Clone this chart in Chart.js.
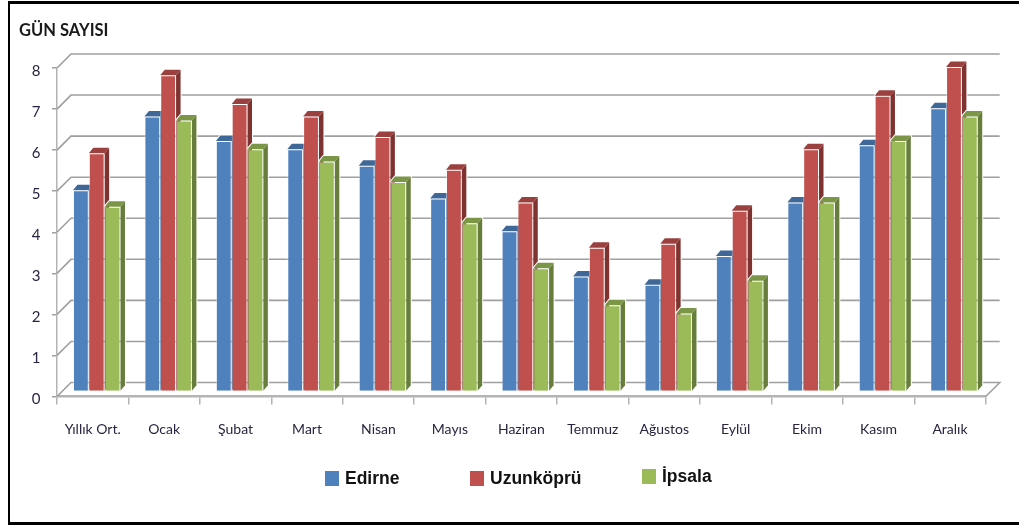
<!DOCTYPE html>
<html lang="tr">
<head>
<meta charset="utf-8">
<title>Gün Sayısı</title>
<script src="https://cdn.jsdelivr.net/npm/chart.js@4/dist/chart.umd.js"></script>
<style>
  html, body { margin: 0; padding: 0; background: #fff; overflow: hidden; }
  #wrap { position: relative; width: 1019px; height: 525px; filter: blur(0.5px); }
  #frame {
    position: absolute; left: 8px; top: 1px; width: 1011px; height: 524px; box-sizing: border-box;
    border-left: 2px solid #000; border-top: 3px solid #000; border-bottom: 3px solid #000;
    pointer-events: none;
  }
  canvas { position: absolute; left: 0; top: 0; }
  .legend-item {
    position: absolute; display: flex; align-items: center;
    font: bold 17.5px "Liberation Sans", sans-serif; color: #111; white-space: nowrap; height: 20px;
  }
  .legend-item i { display: block; width: 14px; height: 15px; margin-right: 6px; }
</style>
</head>
<body>
<div id="wrap">
  <canvas id="chart" width="1019" height="525"></canvas>
  <div id="frame"></div>
  <div id="legend"></div>
</div>
<script>
const categories = ["Yıllık Ort.", "Ocak", "Şubat", "Mart", "Nisan", "Mayıs", "Haziran", "Temmuz", "Ağustos", "Eylül", "Ekim", "Kasım", "Aralık"];
const edirne = [4.9, 6.7, 6.1, 5.9, 5.5, 4.7, 3.9, 2.8, 2.6, 3.3, 4.6, 6.0, 6.9];
const uzunkopru = [5.8, 7.7, 7.0, 6.7, 6.2, 5.4, 4.6, 3.5, 3.6, 4.4, 5.9, 7.2, 7.9];
const ipsala = [4.5, 6.6, 5.9, 5.6, 5.1, 4.1, 3.0, 2.1, 1.9, 2.7, 4.6, 6.1, 6.7];
const seriesNames = ["Edirne", "Uzunköprü", "İpsala"];

const COLOR = {
  front: ["#4f81bd", "#c0504d", "#9bbb59"],
  top: ["#3f6797", "#9a403e", "#7c9647"],
  side: ["#385d8a", "#7f3331", "#677d3b"],
  edge: "rgba(255,255,255,0.45)",
  grid: "#a0a0a0",
  axis: "#b4b4b4",
  text: "#2b2440",
};

// depth of the fake 3D box
const WALL = { dx: 14, dy: -14 };
const BAR_SHIFT = { dx: 4, dy: -5 };
const BAR_DEPTH = { dx: 4.5, dy: -5.5 };

const legendLeft = [325, 470, 642];
const legendTop = [468, 468, 466];

const poly = (ctx, pts, fill) => {
  ctx.beginPath();
  pts.forEach(([x, y], i) => (i ? ctx.lineTo(x, y) : ctx.moveTo(x, y)));
  ctx.closePath();
  ctx.fillStyle = fill;
  ctx.fill();
};

const drawWalls = (chart) => {
  const { ctx, chartArea: area, scales } = chart;
  ctx.save();
  ctx.strokeStyle = COLOR.grid;
  ctx.lineWidth = 1.6;
  scales.y.ticks.forEach((tick) => {
    const y = scales.y.getPixelForValue(tick.value);
    ctx.beginPath();
    ctx.moveTo(area.left, y);
    ctx.lineTo(area.left + WALL.dx, y + WALL.dy);
    ctx.lineTo(area.right + WALL.dx, y + WALL.dy);
    if (tick.value === 0) ctx.lineTo(area.right, y);
    ctx.stroke();
  });
  ctx.restore();
};

const drawBar = (ctx, bar, d) => {
  const half = bar.width / 2;
  const l = bar.x - half;
  const r = bar.x + half;
  const sx = BAR_DEPTH.dx;
  const sy = BAR_DEPTH.dy;
  const side = [[r, bar.y], [r + sx, bar.y + sy], [r + sx, bar.base + sy], [r, bar.base]];
  const top = [[l, bar.y], [l + sx, bar.y + sy], [r + sx, bar.y + sy], [r, bar.y]];
  // pale halo round the box, it hides the wall lines next to the bar
  ctx.save();
  ctx.strokeStyle = "#fff";
  ctx.lineWidth = 2;
  ctx.beginPath();
  [[l, bar.y], [l + sx, bar.y + sy], [r + sx, bar.y + sy], [r + sx, bar.base + sy]].forEach(([x, y], i) =>
    i ? ctx.lineTo(x, y) : ctx.moveTo(x, y)
  );
  ctx.stroke();
  ctx.restore();
  poly(ctx, side, COLOR.side[d]);
  poly(ctx, top, COLOR.top[d]);
  bar.draw(ctx);
};

const box3d = {
  id: "box3d",
  beforeDatasetsDraw(chart) {
    const { ctx } = chart;
    drawWalls(chart);
    ctx.save();
    ctx.translate(BAR_SHIFT.dx, BAR_SHIFT.dy);
    categories.forEach((_, i) => {
      chart.data.datasets.forEach((_ds, d) => drawBar(ctx, chart.getDatasetMeta(d).data[i], d));
    });
    ctx.restore();
    return false;
  },
};

new Chart(document.getElementById("chart"), {
  type: "bar",
  plugins: [box3d],
  data: {
    labels: categories,
    datasets: [edirne, uzunkopru, ipsala].map((values, d) => ({
      label: seriesNames[d],
      data: values,
      backgroundColor: COLOR.front[d],
      borderColor: COLOR.edge,
      borderWidth: 1,
      barPercentage: 1,
      categoryPercentage: 0.665,
    })),
  },
  options: {
    responsive: false,
    animation: false,
    layout: { padding: { left: 19, right: 33.3, top: 21, bottom: 0 } },
    plugins: {
      legend: { display: false },
      tooltip: { enabled: false },
      title: {
        display: true,
        text: "GÜN SAYISI",
        align: "start",
        color: "#1a1a1a",
        font: { family: "Lato, sans-serif", size: 16.5, weight: "bold" },
        padding: { top: 0, bottom: 27.2 },
      },
    },
    scales: {
      x: {
        afterFit(scale) {
          scale.height = 128.5;
        },
        grid: { drawOnChartArea: false, color: COLOR.axis, tickLength: 8, lineWidth: 1.5 },
        border: { color: COLOR.axis, width: 2.5 },
        ticks: {
          color: COLOR.text,
          padding: 17,
          maxRotation: 0,
          autoSkip: false,
          font: { family: "Lato, sans-serif", size: 14 },
        },
      },
      y: {
        min: 0,
        max: 8,
        afterFit(scale) {
          scale.width = 38;
        },
        grid: { drawOnChartArea: false, color: COLOR.grid, tickLength: 5, lineWidth: 1.5 },
        border: { color: COLOR.axis, width: 1.5 },
        ticks: {
          stepSize: 1,
          color: COLOR.text,
          padding: 11.5,
          labelOffset: 3,
          font: { family: "Lato, sans-serif", size: 15 },
        },
      },
    },
  },
});

document.getElementById("legend").innerHTML = seriesNames
  .map(
    (name, d) =>
      `<div class="legend-item" style="left:${legendLeft[d]}px;top:${legendTop[d]}px"><i style="background:${COLOR.front[d]}"></i>${name}</div>`
  )
  .join("");
</script>
</body>
</html>
